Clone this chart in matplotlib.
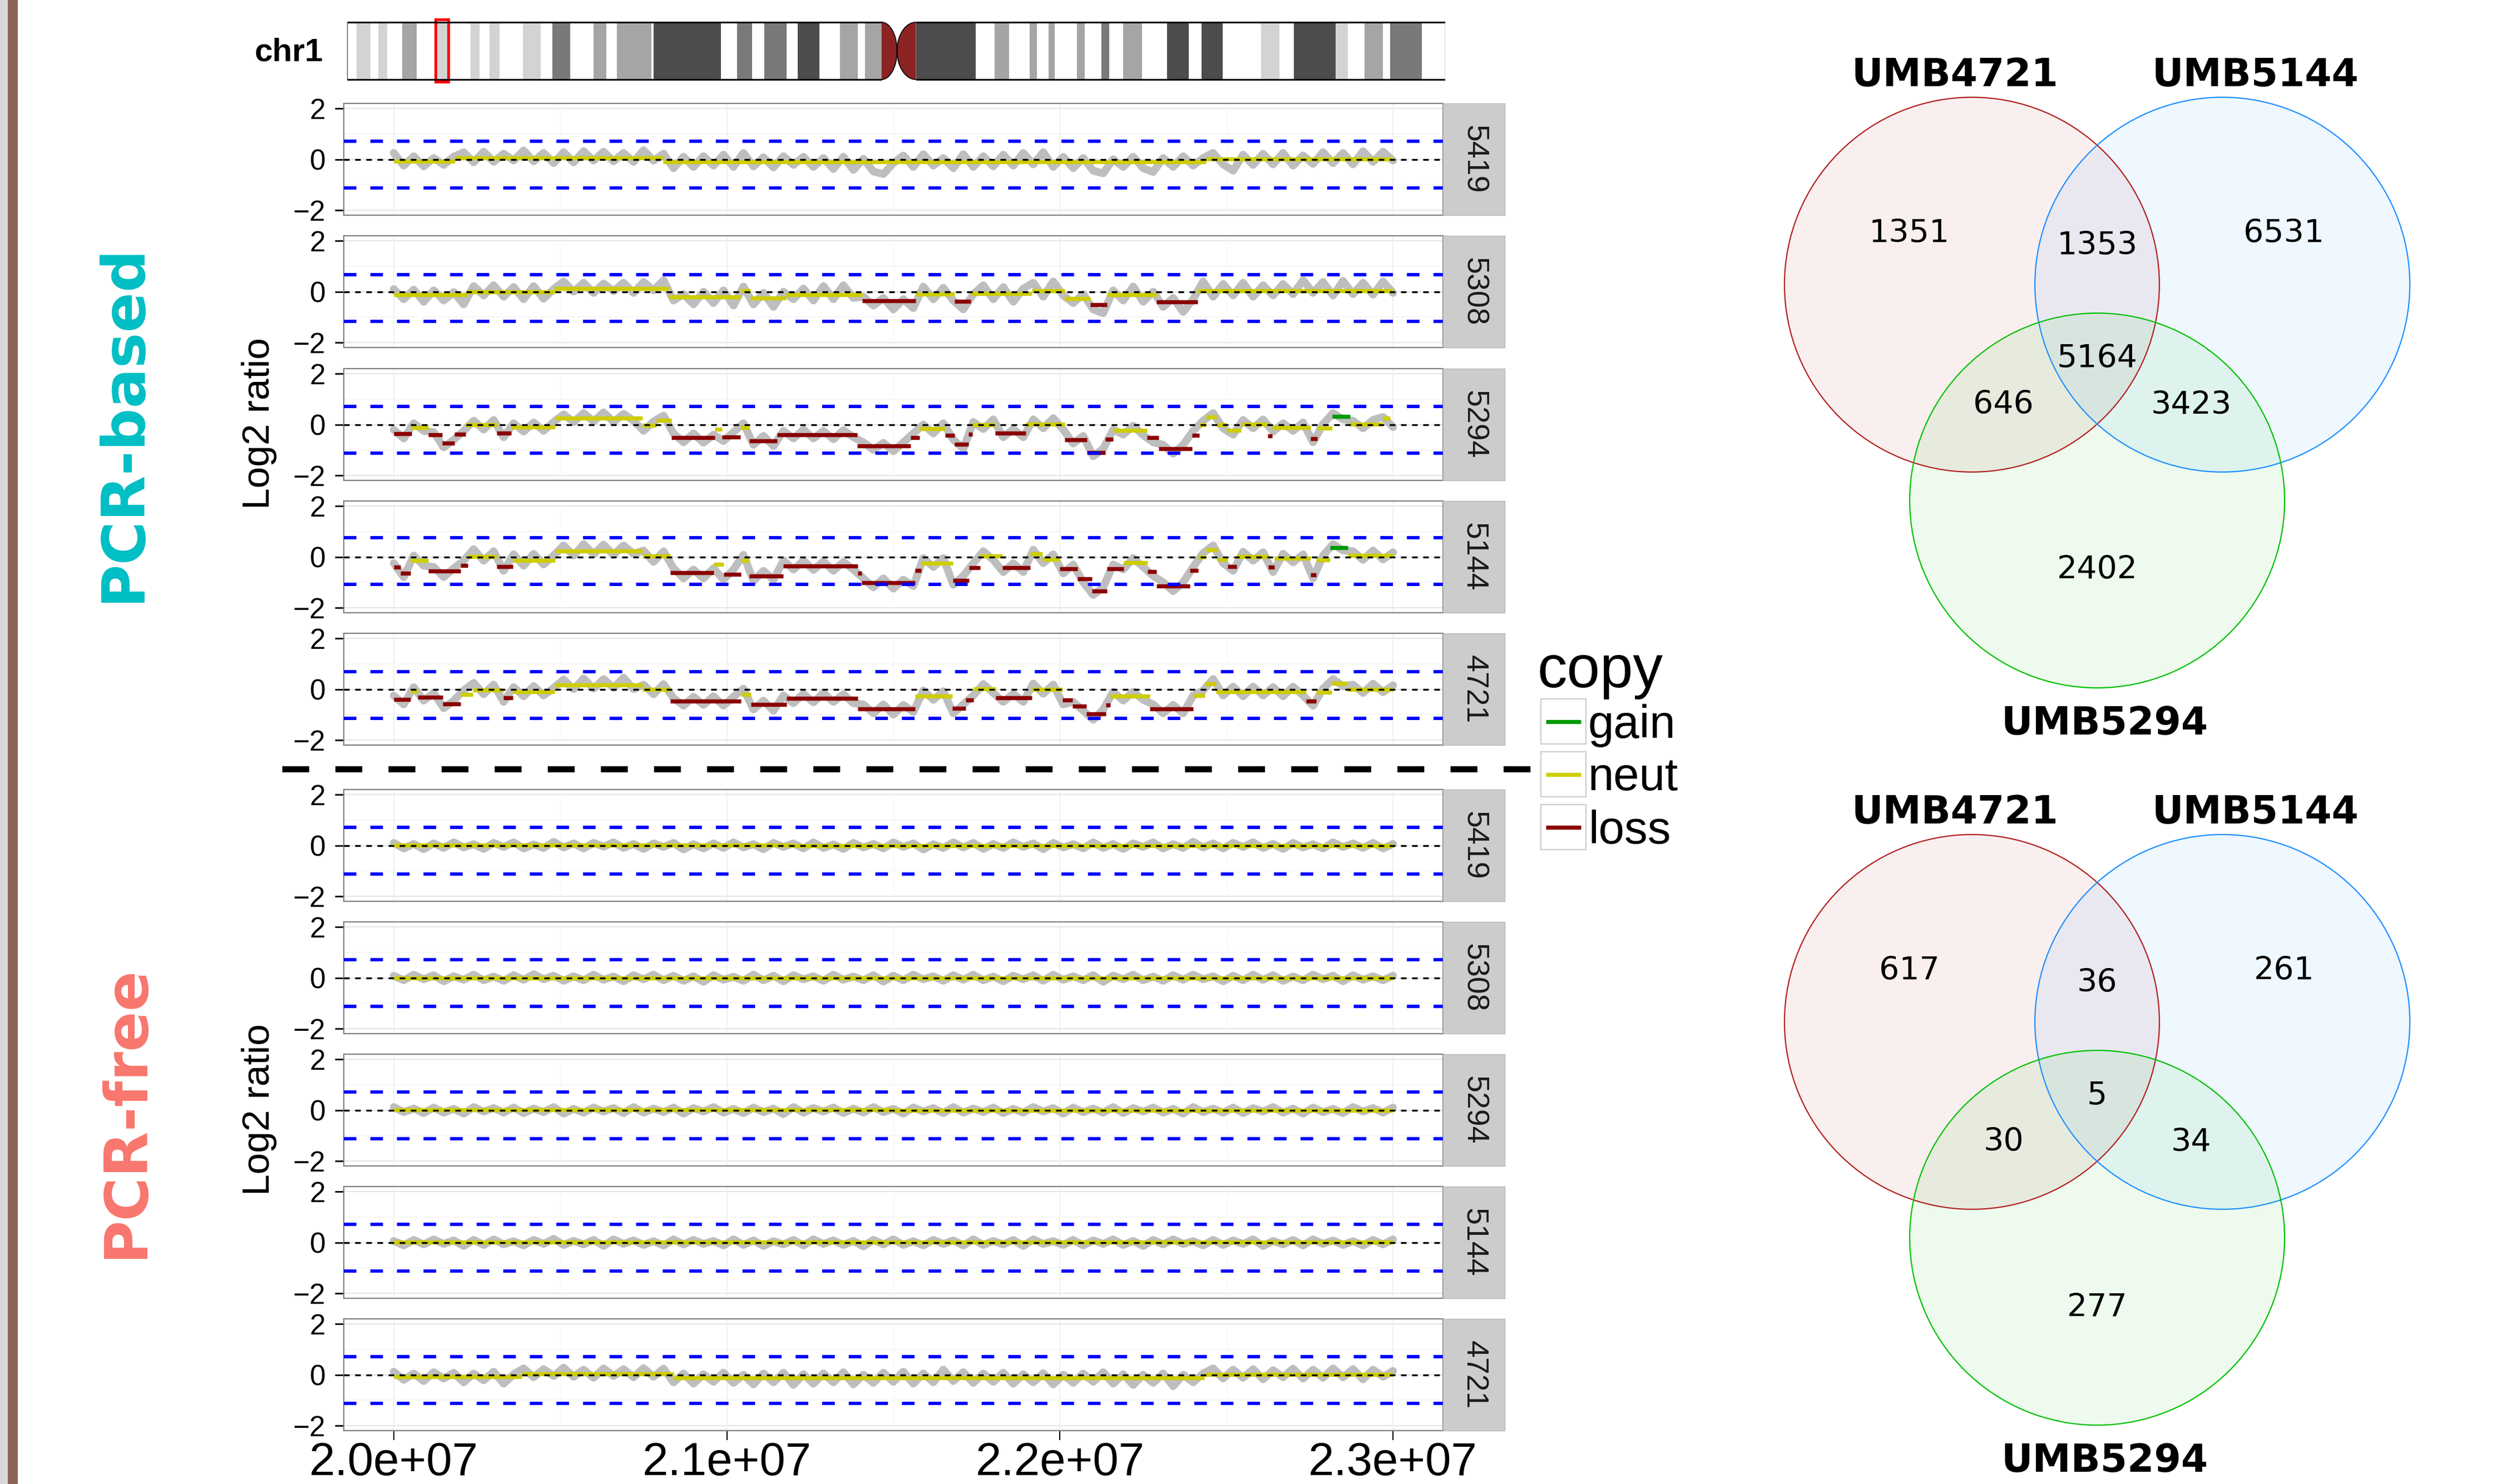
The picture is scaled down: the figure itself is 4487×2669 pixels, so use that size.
import matplotlib.pyplot as plt
import numpy as np
from matplotlib.patches import Rectangle, Circle, Polygon

plt.rcParams['font.family'] = ['Liberation Sans', 'DejaVu Sans']

# ---------------- chromosome 1 ideogram (Mb) ----------------
chr_len = 249.0
band_start = [2.2, 7.1, 12.5, 20.2, 28.0, 32.3, 39.9, 46.6, 55.9, 61.2, 69.5, 88.4, 94.6, 102.2, 111.8,
              117.4, 129.0, 146.8, 154.8, 159.0, 165.5, 171.0, 176.0, 185.9, 193.8, 207.3, 214.7, 224.1,
              230.7, 236.5]
band_end = [5.3, 9.1, 15.8, 23.1, 30.0, 34.5, 43.9, 50.6, 58.8, 69.0, 84.8, 91.8, 99.6, 107.1, 115.8,
            121.2, 142.5, 150.1, 156.4, 160.4, 167.2, 172.8, 180.2, 190.8, 198.6, 211.4, 224.1, 226.9,
            234.9, 243.7]
band_shade = ['light', 'light', 'mid', 'light', 'light', 'light', 'light', 'dark', 'mid', 'mid',
              'darkest', 'dark', 'dark', 'darkest', 'mid', 'mid', 'darkest', 'mid', 'mid', 'mid',
              'mid', 'dark', 'mid', 'darkest', 'darkest', 'light', 'darkest', 'light', 'mid', 'dark']
cen_left, cen_mid, cen_right = 121.2, 124.7, 129.0
region_mb = (20.0, 23.0)

# ---------------- CNV data ----------------
samples = ['5419', '5308', '5294', '5144', '4721']

# log2 ratio traces, evenly spaced from 20.0 to 23.0 Mb
trace_5419_based = [0.25, -0.25, 0.12, -0.28, 0.05, -0.22, 0.10, 0.28, -0.12, 0.30,
                    -0.10, 0.22, -0.05, 0.35, -0.08, 0.25, -0.15, 0.28, -0.12, 0.32,
                    -0.05, 0.30, -0.08, 0.25, -0.10, 0.36, -0.05, 0.22, -0.35, 0.10,
                    -0.30, 0.12, -0.25, 0.18, -0.30, 0.25, -0.28, 0.08, -0.32, 0.12,
                    -0.22, 0.10, -0.30, 0.05, -0.38, 0.10, -0.42, 0.02, -0.48, -0.58,
                    -0.15, 0.15, -0.30, 0.20, -0.25, 0.05, -0.35, 0.20, -0.30, 0.12,
                    -0.28, 0.18, -0.25, 0.25, -0.20, 0.28, -0.30, 0.10, -0.35, 0.05,
                    -0.45, -0.55, 0.00, -0.30, 0.10, -0.35, -0.50, 0.05, -0.30, 0.12,
                    -0.25, 0.05, 0.25, -0.20, -0.45, 0.18, -0.22, 0.22, -0.20, 0.25,
                    -0.25, 0.15, -0.18, 0.28, -0.15, 0.25, -0.20, 0.32, -0.10, 0.30,
                    -0.05]
trace_5308_based = [0.10, -0.30, 0.08, -0.40, 0.05, -0.35, -0.02, -0.50, 0.22, -0.15,
                    0.25, -0.20, 0.18, -0.30, 0.22, -0.28, 0.10, 0.40, 0.00, 0.35,
                    -0.05, 0.32, 0.02, 0.35, -0.05, 0.38, 0.05, 0.45, -0.35, -0.10,
                    -0.50, 0.00, -0.45, 0.05, -0.55, 0.20, -0.50, -0.05, -0.60, 0.00,
                    -0.30, 0.12, -0.35, 0.22, -0.30, 0.25, -0.25, -0.20, -0.55, -0.25,
                    -0.70, -0.30, -0.65, 0.20, -0.30, 0.15, -0.35, -0.70, -0.10, 0.25,
                    -0.30, 0.18, -0.40, 0.12, 0.35, -0.20, 0.40, -0.15, -0.45, -0.10,
                    -0.70, -0.85, 0.05, -0.35, 0.20, -0.40, 0.00, -0.60, -0.25, -0.80,
                    -0.30, 0.40, -0.20, 0.30, -0.15, 0.35, -0.20, 0.25, -0.15, 0.30,
                    -0.10, 0.45, -0.05, 0.38, -0.15, 0.42, -0.10, 0.35, -0.12, 0.40,
                    -0.05]
trace_5294_based = [-0.20, -0.55, 0.05, -0.25, -0.30, -0.90, -0.60, -0.25, 0.15, -0.20,
                    0.18, -0.50, 0.05, -0.28, 0.08, -0.25, 0.10, 0.40, 0.10, 0.45,
                    0.12, 0.48, 0.10, 0.42, 0.15, -0.25, 0.12, 0.35, -0.35, -0.70,
                    -0.35, -0.72, -0.40, -0.65, -0.30, 0.05, -0.80, -0.45, -0.85, -0.25,
                    -0.55, -0.20, -0.55, -0.25, -0.58, -0.22, -0.50, -0.70, -1.00, -0.72,
                    -1.05, -0.70, -0.35, 0.00, -0.35, 0.05, -0.60, -0.95, 0.10, -0.18,
                    0.20, -0.50, -0.18, -0.50, 0.20, -0.15, 0.25, -0.20, -0.75, -0.45,
                    -1.25, -0.95, -0.20, -0.40, -0.05, -0.42, -0.70, -0.80, -1.15, -0.80,
                    -0.25, 0.15, 0.45, -0.15, -0.40, 0.18, -0.15, 0.20, -0.28, 0.05,
                    -0.25, 0.08, -0.70, 0.02, 0.45, 0.20, 0.15, -0.15, 0.18, 0.30,
                    -0.10]
trace_5144_based = [-0.25, -0.80, 0.05, -0.35, -0.40, -0.80, -0.45, -0.15, 0.30, -0.15,
                    0.22, -0.55, 0.10, -0.35, 0.12, -0.30, 0.05, 0.45, 0.05, 0.50,
                    0.10, 0.48, 0.08, 0.45, 0.12, 0.25, -0.20, 0.22, -0.45, -0.85,
                    -0.50, -0.85, -0.45, -0.90, -0.50, 0.08, -0.95, -0.55, -0.90, -0.15,
                    -0.50, -0.15, -0.52, -0.18, -0.55, -0.20, -0.50, -0.85, -1.20, -0.85,
                    -1.25, -0.90, -1.15, -0.05, -0.40, -0.05, -1.10, -0.75, -0.25, 0.22,
                    -0.12, -0.60, -0.25, -0.60, 0.28, -0.25, 0.10, -0.65, -0.30, -1.00,
                    -1.50, -1.20, -0.30, -0.50, -0.05, -0.40, -0.75, -1.00, -1.35, -1.00,
                    -0.40, 0.15, 0.45, -0.25, -0.55, 0.20, -0.15, 0.18, -0.60, 0.12,
                    -0.22, 0.10, -0.85, 0.05, 0.50, 0.25, 0.22, -0.12, 0.25, -0.10,
                    0.18]
trace_4721_based = [-0.25, -0.60, 0.08, -0.45, -0.15, -0.75, -0.45, -0.05, 0.25, -0.20,
                    0.18, -0.50, 0.08, -0.28, 0.12, -0.25, 0.05, 0.38, 0.00, 0.42,
                    0.02, 0.40, 0.05, 0.45, 0.00, 0.18, -0.20, 0.20, -0.35, -0.65,
                    -0.30, -0.62, -0.28, -0.65, -0.30, 0.02, -0.80, -0.45, -0.85, -0.25,
                    -0.55, -0.18, -0.52, -0.15, -0.50, -0.20, -0.55, -0.60, -0.95, -0.60,
                    -1.00, -0.62, -0.90, -0.05, -0.42, -0.08, -0.95, -0.60, -0.25, 0.20,
                    -0.15, -0.50, -0.18, -0.50, 0.22, -0.18, 0.18, -0.60, -0.50, -0.85,
                    -1.20, -0.80, -0.10, -0.45, -0.10, -0.42, -0.60, -0.95, -0.62, -0.95,
                    -0.25, -0.05, 0.40, -0.25, 0.10, -0.28, 0.10, -0.25, 0.08, -0.28,
                    0.10, -0.25, -0.65, 0.02, 0.40, 0.12, 0.18, -0.15, 0.22, -0.12,
                    0.15]
trace_5419_free = [0.10, -0.12, 0.06, -0.15, 0.08, -0.10, 0.12, -0.08, 0.05, -0.14,
                   0.10, -0.06, 0.12, -0.12, 0.04, -0.10, 0.14, -0.08, 0.08, -0.12,
                   0.10, -0.05, 0.12, -0.10, 0.06, -0.14, 0.08, -0.06, 0.10, -0.16,
                   0.05, -0.12, 0.08, -0.10, 0.12, -0.08, 0.05, -0.15, 0.10, -0.06,
                   0.08, -0.12, 0.12, -0.10, 0.04, -0.14, 0.10, -0.08, 0.06, -0.12,
                   0.12, -0.06, 0.08, -0.16, 0.05, -0.10, 0.12, -0.08, 0.10, -0.14,
                   0.06, -0.10, 0.12, -0.06, 0.08, -0.15, 0.10, -0.08, 0.05, -0.12,
                   0.12, -0.10, 0.06, -0.14, 0.08, -0.06, 0.12, -0.12, 0.05, -0.10,
                   0.14, -0.08, 0.08, -0.12, 0.10, -0.06, 0.12, -0.10, 0.06, -0.14,
                   0.10, -0.08, 0.05, -0.12, 0.12, -0.06, 0.08, -0.10, 0.10, -0.12,
                   0.06]
trace_5308_free = [0.08, -0.10, 0.12, -0.06, 0.10, -0.14, 0.06, -0.08, 0.12, -0.10,
                   0.05, -0.12, 0.10, -0.08, 0.14, -0.06, 0.08, -0.12, 0.06, -0.10,
                   0.12, -0.08, 0.05, -0.14, 0.10, -0.06, 0.12, -0.10, 0.08, -0.12,
                   0.06, -0.16, 0.10, -0.08, 0.04, -0.12, 0.12, -0.10, 0.08, -0.14,
                   0.10, -0.06, 0.06, -0.12, 0.12, -0.08, 0.05, -0.10, 0.10, -0.15,
                   0.08, -0.10, 0.12, -0.06, 0.06, -0.12, 0.10, -0.08, 0.12, -0.10,
                   0.05, -0.14, 0.08, -0.06, 0.10, -0.12, 0.12, -0.08, 0.06, -0.10,
                   0.10, -0.16, 0.08, -0.06, 0.12, -0.10, 0.05, -0.12, 0.10, -0.08,
                   0.12, -0.06, 0.06, -0.14, 0.08, -0.10, 0.12, -0.08, 0.10, -0.12,
                   0.05, -0.10, 0.12, -0.06, 0.08, -0.14, 0.10, -0.08, 0.06, -0.10,
                   0.08]
trace_5294_free = [0.12, -0.08, 0.06, -0.12, 0.10, -0.10, 0.05, -0.14, 0.12, -0.06,
                   0.08, -0.10, 0.10, -0.12, 0.06, -0.08, 0.12, -0.14, 0.05, -0.10,
                   0.10, -0.06, 0.08, -0.12, 0.12, -0.10, 0.06, -0.08, 0.10, -0.14,
                   0.08, -0.06, 0.12, -0.10, 0.05, -0.12, 0.10, -0.08, 0.06, -0.16,
                   0.12, -0.10, 0.08, -0.06, 0.10, -0.12, 0.06, -0.10, 0.12, -0.08,
                   0.05, -0.14, 0.10, -0.06, 0.08, -0.12, 0.12, -0.10, 0.06, -0.08,
                   0.10, -0.12, 0.05, -0.10, 0.12, -0.06, 0.08, -0.14, 0.10, -0.08,
                   0.06, -0.10, 0.12, -0.12, 0.08, -0.06, 0.10, -0.10, 0.05, -0.14,
                   0.12, -0.08, 0.06, -0.10, 0.10, -0.12, 0.08, -0.06, 0.12, -0.10,
                   0.06, -0.14, 0.10, -0.08, 0.05, -0.12, 0.12, -0.06, 0.08, -0.10,
                   0.10]
trace_5144_free = [0.06, -0.12, 0.10, -0.08, 0.12, -0.06, 0.08, -0.14, 0.10, -0.10,
                   0.12, -0.08, 0.05, -0.12, 0.10, -0.06, 0.14, -0.10, 0.06, -0.08,
                   0.10, -0.14, 0.12, -0.06, 0.08, -0.10, 0.05, -0.12, 0.12, -0.08,
                   0.10, -0.06, 0.06, -0.12, 0.12, -0.10, 0.08, -0.14, 0.05, -0.08,
                   0.10, -0.12, 0.12, -0.06, 0.08, -0.10, 0.06, -0.16, 0.10, -0.08,
                   0.12, -0.10, 0.05, -0.12, 0.10, -0.06, 0.08, -0.12, 0.12, -0.10,
                   0.06, -0.08, 0.10, -0.14, 0.12, -0.06, 0.05, -0.10, 0.10, -0.12,
                   0.08, -0.06, 0.12, -0.10, 0.06, -0.14, 0.10, -0.08, 0.12, -0.06,
                   0.05, -0.12, 0.10, -0.10, 0.08, -0.06, 0.12, -0.14, 0.06, -0.08,
                   0.10, -0.12, 0.12, -0.06, 0.08, -0.10, 0.05, -0.12, 0.10, -0.08,
                   0.12]
trace_4721_free = [0.12, -0.20, 0.05, -0.25, 0.10, -0.15, 0.08, -0.30, 0.05, -0.22,
                   0.12, -0.35, 0.02,
                   0.25, -0.10, 0.22, -0.05, 0.28, -0.08, 0.20, -0.12, 0.25, -0.05,
                   0.22, -0.10, 0.26, -0.08, 0.24,
                   -0.30, 0.05, -0.35, 0.02, -0.28, 0.08, -0.32, 0.00, -0.38, 0.05,
                   -0.30, 0.08, -0.40, 0.02, -0.35, 0.05, -0.30, 0.10, -0.38, 0.00,
                   -0.32, 0.08, -0.28, 0.12, -0.35, 0.05, -0.30, 0.20, -0.25, 0.10,
                   -0.32, 0.05, -0.28, 0.08, -0.35, 0.02, -0.30, 0.06, -0.38, 0.00,
                   -0.32, 0.05, -0.28, 0.10, -0.35, 0.02, -0.40, 0.00, -0.32, 0.05,
                   -0.45, 0.00, -0.30, 0.05,
                   0.25, -0.15, 0.20, -0.12, 0.22, -0.18, 0.18, -0.10, 0.24, -0.15,
                   0.20, -0.12, 0.25, -0.10, 0.22, -0.18, 0.20, -0.08, 0.15]

# segments: (start Mb, end Mb, log2 ratio, copy state)
seg_5419_based = [(20.0, 20.184, -0.07, 'neut'), (20.184, 20.809, 0.05, 'neut'),
                  (20.809, 22.439, -0.09, 'neut'), (22.439, 23.0, 0.01, 'neut')]
seg_5308_based = [(20.0, 20.22, -0.13, 'neut'), (20.22, 20.483, -0.01, 'neut'), (20.483, 20.826, 0.12, 'neut'),
                  (20.826, 21.04, -0.20, 'neut'), (21.04, 21.07, 0.04, 'neut'), (21.07, 21.177, -0.26, 'neut'),
                  (21.177, 21.406, -0.12, 'neut'), (21.406, 21.567, -0.36, 'loss'), (21.567, 21.683, -0.09, 'neut'),
                  (21.683, 21.732, -0.38, 'loss'), (21.732, 21.916, -0.08, 'neut'), (21.916, 22.015, 0.04, 'neut'),
                  (22.015, 22.092, -0.27, 'neut'), (22.092, 22.142, -0.52, 'loss'), (22.142, 22.29, -0.12, 'neut'),
                  (22.29, 22.413, -0.41, 'loss'), (22.413, 23.0, 0.04, 'neut')]
seg_5294_based = [(20.0, 20.054, -0.37, 'loss'), (20.054, 20.104, -0.11, 'neut'), (20.104, 20.146, -0.41, 'loss'),
                  (20.146, 20.183, -0.73, 'loss'), (20.183, 20.215, -0.38, 'loss'), (20.215, 20.309, -0.02, 'neut'),
                  (20.309, 20.353, -0.33, 'loss'), (20.353, 20.484, -0.09, 'neut'), (20.484, 20.746, 0.25, 'neut'),
                  (20.746, 20.788, -0.04, 'neut'), (20.788, 20.833, 0.17, 'neut'), (20.833, 20.964, -0.52, 'loss'),
                  (20.964, 20.986, -0.18, 'neut'), (20.986, 21.04, -0.49, 'loss'), (21.04, 21.067, -0.13, 'neut'),
                  (21.067, 21.151, -0.65, 'loss'), (21.151, 21.391, -0.41, 'loss'), (21.391, 21.552, -0.85, 'loss'),
                  (21.552, 21.579, -0.51, 'loss'), (21.579, 21.656, -0.17, 'neut'), (21.656, 21.683, -0.42, 'loss'),
                  (21.683, 21.725, -0.77, 'loss'), (21.725, 21.737, -0.39, 'loss'), (21.737, 21.806, -0.02, 'neut'),
                  (21.806, 21.898, -0.33, 'loss'), (21.898, 22.014, 0.01, 'neut'), (22.014, 22.081, -0.60, 'loss'),
                  (22.081, 22.137, -1.10, 'loss'), (22.137, 22.16, -0.59, 'loss'), (22.16, 22.261, -0.23, 'neut'),
                  (22.261, 22.296, -0.52, 'loss'), (22.296, 22.397, -0.95, 'loss'), (22.397, 22.419, -0.43, 'loss'),
                  (22.419, 22.439, 0.0, 'neut'), (22.439, 22.471, 0.29, 'neut'), (22.471, 22.5, -0.01, 'neut'),
                  (22.5, 22.543, -0.24, 'neut'), (22.543, 22.624, 0.01, 'neut'), (22.624, 22.637, -0.44, 'loss'),
                  (22.637, 22.753, -0.11, 'neut'), (22.753, 22.772, -0.56, 'loss'), (22.772, 22.817, -0.14, 'neut'),
                  (22.817, 22.871, 0.32, 'gain'), (22.871, 22.97, 0.01, 'neut'), (22.97, 22.992, 0.25, 'neut')]
seg_5144_based = [(20.0, 20.021, -0.40, 'loss'), (20.021, 20.05, -0.64, 'loss'), (20.05, 20.104, -0.14, 'neut'),
                  (20.104, 20.2, -0.56, 'loss'), (20.2, 20.222, -0.33, 'loss'), (20.222, 20.309, 0.02, 'neut'),
                  (20.309, 20.358, -0.38, 'loss'), (20.358, 20.485, -0.14, 'neut'), (20.485, 20.747, 0.24, 'neut'),
                  (20.747, 20.83, 0.04, 'neut'), (20.83, 20.961, -0.63, 'loss'), (20.961, 20.991, -0.30, 'neut'),
                  (20.991, 21.042, -0.68, 'loss'), (21.042, 21.067, -0.14, 'neut'), (21.067, 21.169, -0.75, 'loss'),
                  (21.169, 21.393, -0.36, 'loss'), (21.393, 21.404, -0.64, 'loss'), (21.404, 21.565, -1.01, 'loss'),
                  (21.565, 21.584, -0.53, 'loss'), (21.584, 21.679, -0.25, 'neut'), (21.679, 21.727, -0.94, 'loss'),
                  (21.727, 21.761, -0.43, 'loss'), (21.761, 21.827, 0.04, 'neut'), (21.827, 21.91, -0.42, 'loss'),
                  (21.91, 21.948, 0.11, 'neut'), (21.948, 22.0, -0.09, 'neut'), (22.0, 22.053, -0.46, 'loss'),
                  (22.053, 22.096, -0.86, 'loss'), (22.096, 22.142, -1.34, 'loss'), (22.142, 22.191, -0.47, 'loss'),
                  (22.191, 22.263, -0.22, 'neut'), (22.263, 22.29, -0.57, 'loss'), (22.29, 22.39, -1.16, 'loss'),
                  (22.39, 22.415, -0.54, 'loss'), (22.415, 22.439, -0.02, 'neut'), (22.439, 22.473, 0.28, 'neut'),
                  (22.473, 22.504, -0.09, 'neut'), (22.504, 22.53, -0.38, 'loss'), (22.53, 22.625, 0.01, 'neut'),
                  (22.625, 22.644, -0.41, 'loss'), (22.644, 22.752, -0.05, 'neut'), (22.752, 22.769, -0.71, 'loss'),
                  (22.769, 22.811, -0.11, 'neut'), (22.811, 22.864, 0.36, 'gain'), (22.864, 23.0, 0.05, 'neut')]
seg_4721_based = [(20.0, 20.05, -0.40, 'loss'), (20.05, 20.072, -0.08, 'neut'), (20.072, 20.148, -0.31, 'loss'),
                  (20.148, 20.2, -0.59, 'loss'), (20.2, 20.237, -0.21, 'neut'), (20.237, 20.33, -0.03, 'neut'),
                  (20.33, 20.358, -0.33, 'loss'), (20.358, 20.483, -0.09, 'neut'), (20.483, 20.747, 0.16, 'neut'),
                  (20.747, 20.83, -0.01, 'neut'), (20.83, 21.042, -0.47, 'loss'), (21.042, 21.073, -0.21, 'neut'),
                  (21.073, 21.179, -0.61, 'loss'), (21.179, 21.393, -0.36, 'loss'), (21.393, 21.565, -0.77, 'loss'),
                  (21.565, 21.677, -0.27, 'neut'), (21.677, 21.717, -0.75, 'loss'), (21.717, 21.74, -0.42, 'loss'),
                  (21.74, 21.808, 0.01, 'neut'), (21.808, 21.916, -0.33, 'loss'), (21.916, 22.007, 0.0, 'neut'),
                  (22.007, 22.037, -0.43, 'loss'), (22.037, 22.079, -0.66, 'loss'), (22.079, 22.138, -0.98, 'loss'),
                  (22.138, 22.151, -0.62, 'loss'), (22.151, 22.27, -0.27, 'neut'), (22.27, 22.4, -0.78, 'loss'),
                  (22.4, 22.435, -0.25, 'neut'), (22.435, 22.468, 0.21, 'neut'), (22.468, 22.739, -0.09, 'neut'),
                  (22.739, 22.769, -0.47, 'loss'), (22.769, 22.816, -0.12, 'neut'), (22.816, 22.862, 0.22, 'neut'),
                  (22.862, 23.0, 0.0, 'neut')]
seg_5419_free = [(20.0, 21.2, 0.01, 'neut'), (21.2, 23.0, -0.02, 'neut')]
seg_5308_free = [(20.0, 23.0, 0.0, 'neut')]
seg_5294_free = [(20.0, 21.5, 0.01, 'neut'), (21.5, 23.0, -0.01, 'neut')]
seg_5144_free = [(20.0, 23.0, 0.01, 'neut')]
seg_4721_free = [(20.0, 20.385, -0.07, 'neut'), (20.385, 20.84, 0.04, 'neut'),
                 (20.84, 22.434, -0.13, 'neut'), (22.434, 23.0, 0.01, 'neut')]

thresh_up_based = [0.71, 0.66, 0.71, 0.76, 0.69]
thresh_lo_based = [-1.13, -1.18, -1.13, -1.09, -1.15]
thresh_up_free = [0.72, 0.72, 0.72, 0.72, 0.72]
thresh_lo_free = [-1.12, -1.12, -1.12, -1.12, -1.12]

x_major = [2.0e7, 2.1e7, 2.2e7, 2.3e7]
x_labels = ['2.0e+07', '2.1e+07', '2.2e+07', '2.3e+07']

copy_states = ['gain', 'neut', 'loss']
copy_colors = {'gain': '#009A00', 'neut': '#CDCD00', 'loss': '#8B0000'}

# ---------------- Venn data ----------------
venn_sets = ['UMB4721', 'UMB5144', 'UMB5294']
# order: A only, B only, A&B, C only, A&C, B&C, A&B&C
venn_pcr_based = [1351, 6531, 1353, 2402, 646, 3423, 5164]
venn_pcr_free = [617, 261, 36, 277, 30, 34, 5]

# ---------------- figure ----------------
W, H = 4487, 2669
fig = plt.figure(figsize=(W / 100, H / 100), dpi=100)


def px_axes(x0, y0, x1, y1):
    return fig.add_axes([x0 / W, 1 - y1 / H, (x1 - x0) / W, (y1 - y0) / H])


bg = fig.add_axes([0, 0, 1, 1])
bg.set_xlim(0, W)
bg.set_ylim(H, 0)
bg.axis('off')
bg.add_patch(Rectangle((0, 0), 14, H, color='#D7D8DB', lw=0))
bg.add_patch(Rectangle((14, 0), 18, H, color='#8B6658', lw=0))

bg.text(222, 761, 'PCR-based', rotation=90, ha='center', va='center', fontsize=77,
        fontweight='bold', color='#00BFC4', family='DejaVu Sans')
bg.text(227, 2000, 'PCR-free', rotation=90, ha='center', va='center', fontsize=77,
        fontweight='bold', color='#F8766D', family='DejaVu Sans')
bg.text(466, 762, 'Log2 ratio', rotation=90, ha='center', va='center', fontsize=50)
bg.text(466, 1996, 'Log2 ratio', rotation=90, ha='center', va='center', fontsize=50)
bg.text(581, 94, 'chr1', ha='right', va='center', fontsize=42, fontweight='bold')

# separator between the two groups
bg.plot([507, 2752], [1383, 1383], color='black', lw=7.9, dashes=(4.4, 4.3), solid_capstyle='butt',
        dash_capstyle='butt')

# ---------------- ideogram ----------------
shade_color = {'light': '#D3D3D3', 'mid': '#A5A5A5', 'dark': '#797979', 'darkest': '#4C4C4C'}
ax_id = px_axes(624, 25, 2598, 160)
ax_id.set_xlim(0, chr_len)
ax_id.set_ylim(160, 25)
ax_id.axis('off')
y_top, y_bot = 40, 143
ax_id.bar(band_start, y_bot - y_top, width=np.array(band_end) - np.array(band_start), bottom=y_top,
          align='edge', color=[shade_color[s] for s in band_shade], linewidth=0)
for yy in (y_top, y_bot):
    ax_id.plot([0, cen_left], [yy, yy], color='black', lw=2.2, solid_capstyle='butt')
    ax_id.plot([cen_right, chr_len], [yy, yy], color='black', lw=2.2, solid_capstyle='butt')
ax_id.plot([0, 0], [y_top, y_bot], color='#444444', lw=1.0)
ax_id.plot([chr_len, chr_len], [y_top, y_bot], color='#444444', lw=1.0)
t = np.linspace(-np.pi / 2, np.pi / 2, 80)
ym = (y_top + y_bot) / 2 + (y_bot - y_top) / 2 * np.sin(t)
xl = cen_left + (cen_mid - cen_left) * np.cos(t)
xr = cen_right - (cen_right - cen_mid) * np.cos(t)
ax_id.add_patch(Polygon(np.column_stack([xl, ym]), closed=True, facecolor='#8B2323', edgecolor='none'))
ax_id.add_patch(Polygon(np.column_stack([xr, ym]), closed=True, facecolor='#8B2323', edgecolor='none'))
ax_id.plot(xl, ym, color='black', lw=1.2)
ax_id.plot(xr, ym, color='black', lw=1.2)
ax_id.add_patch(Rectangle((region_mb[0], 35), region_mb[1] - region_mb[0], 112, fill=False,
                          edgecolor='#FF0000', lw=3.6, clip_on=False))

# ---------------- CNV panels ----------------
panel_tops = [186, 424, 663, 901, 1139, 1420, 1658, 1896, 2134, 2372]
panel_h = 201
px_l, px_r, strip_r = 618, 2594, 2705

traces = [trace_5419_based, trace_5308_based, trace_5294_based, trace_5144_based, trace_4721_based,
          trace_5419_free, trace_5308_free, trace_5294_free, trace_5144_free, trace_4721_free]
segments = [seg_5419_based, seg_5308_based, seg_5294_based, seg_5144_based, seg_4721_based,
            seg_5419_free, seg_5308_free, seg_5294_free, seg_5144_free, seg_4721_free]
th_up = thresh_up_based + thresh_up_free
th_lo = thresh_lo_based + thresh_lo_free
labels = samples + samples

for k in range(10):
    top = panel_tops[k]
    ax = px_axes(px_l, top, px_r, top + panel_h)
    ax.set_xlim(19.85e6, 23.15e6)
    ax.set_ylim(-2.2, 2.2)
    for yv in (-1, 1):
        ax.axhline(yv, color='#F5F5F5', lw=1.2, zorder=0)
    for yv in (-2, 0, 2):
        ax.axhline(yv, color='#E6E6E6', lw=1.6, zorder=0)
    for xv in (2.05e7, 2.15e7, 2.25e7):
        ax.axvline(xv, color='#F7F7F7', lw=1.0, zorder=0)
    for xv in x_major:
        ax.axvline(xv, color='#EEEEEE', lw=1.2, zorder=0)

    tr = traces[k]
    pos = np.linspace(20.0e6, 23.0e6, len(tr))
    ax.plot(pos, tr, color='#BEBEBE', lw=10, solid_joinstyle='round', solid_capstyle='round',
            zorder=2)

    seg = segments[k]
    lc = ax.hlines([s[2] for s in seg], [s[0] * 1e6 for s in seg], [s[1] * 1e6 for s in seg],
                   colors=[copy_colors[s[3]] for s in seg], lw=5.3, zorder=3)
    lc.set_capstyle('butt')

    ax.axhline(0, color='black', lw=2.4, dashes=(3.0, 3.0), zorder=4)
    ax.axhline(th_up[k], color='#0000FF', lw=4.3, dashes=(3.8, 4.2), zorder=4)
    ax.axhline(th_lo[k], color='#0000FF', lw=4.3, dashes=(3.8, 4.2), zorder=4)

    ax.set_yticks([-2, 0, 2])
    ax.set_yticklabels(['\u22122', '0', '2'])
    ax.tick_params(axis='y', length=11.5, width=2, color='black', labelsize=37, pad=12)
    if k == 9:
        ax.set_xticks(x_major)
        ax.set_xticklabels(x_labels)
        ax.tick_params(axis='x', length=12, width=1.5, color='black', labelsize=60, pad=2)
    else:
        ax.set_xticks([])
    for sp in ax.spines.values():
        sp.set_color('#808080')
        sp.set_linewidth(1.6)

    sax = px_axes(px_r, top, strip_r, top + panel_h)
    sax.set_facecolor('#CCCCCC')
    sax.set_xticks([])
    sax.set_yticks([])
    for sp in sax.spines.values():
        sp.set_color('#B8B8B8')
        sp.set_linewidth(1.0)
    sax.text(0.5, 0.5, labels[k], rotation=-90, ha='center', va='center', fontsize=40,
             color='#1A1A1A', transform=sax.transAxes)

# ---------------- legend ----------------
bg.text(2763, 1236, 'copy', fontsize=77, ha='left', va='baseline')
key_tops = [1257, 1352, 1447]
for state, ktop in zip(copy_states, key_tops):
    bg.add_patch(Rectangle((2770, ktop), 81, 81, facecolor='white', edgecolor='#CCCCCC', lw=1.6))
    bg.plot([2779, 2842], [ktop + 40.5, ktop + 40.5], color=copy_colors[state], lw=5.3,
            solid_capstyle='butt')
    bg.text(2855, ktop + 40.5 + 29, state, fontsize=60, ha='left', va='baseline')

# ---------------- Venn diagrams ----------------
R_PX = 337
circle_xy = [(-0.668, 0.383), (0.668, 0.383), (0.0, -0.769)]
circle_colors = ['#B22222', '#1E90FF', '#00C000']
region_xy = [(-1.003, 0.653), (0.997, 0.653), (0.0, 0.588), (0.0, -1.142),
             (-0.499, -0.26), (0.501, -0.26), (0.0, -0.012)]
setlabel_xy = [(-0.757, 1.50), (0.843, 1.50), (0.04, -1.96)]


def draw_venn(cy_px, counts):
    cx_px = 3770
    x0, x1 = 3100, 4450
    y0, y1 = cy_px - 641, cy_px - 641 + 1334
    ax = px_axes(x0, max(y0, 0), x1, min(y1, H))
    ax.set_xlim((x0 - cx_px) / R_PX, (x1 - cx_px) / R_PX)
    ax.set_ylim((cy_px - min(y1, H)) / R_PX, (cy_px - max(y0, 0)) / R_PX)
    ax.axis('off')
    for (cx, cy), col in zip(circle_xy, circle_colors):
        ax.add_patch(Circle((cx, cy), 1.0, facecolor=col, alpha=0.07, edgecolor='none'))
    for (cx, cy), col in zip(circle_xy, circle_colors):
        ax.add_patch(Circle((cx, cy), 1.0, facecolor='none', edgecolor=col, lw=1.6))
    for (x, y), n in zip(region_xy, counts):
        ax.text(x, y, str(n), ha='center', va='center', fontsize=41, family='DejaVu Sans')
    for (x, y), name in zip(setlabel_xy, venn_sets):
        ax.text(x, y, name, ha='center', va='center', fontsize=50, fontweight='bold',
                family='DejaVu Sans')


draw_venn(641, venn_pcr_based)
draw_venn(1967, venn_pcr_free)

fig.savefig('out.png', dpi=100, facecolor='white')
